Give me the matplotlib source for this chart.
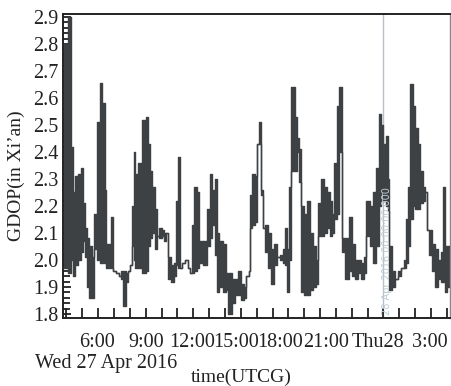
import matplotlib.pyplot as plt
import matplotlib.transforms as mtransforms
from matplotlib.ticker import MultipleLocator

# GDOP over Xi'an, hours counted from Wed 27 Apr 2016 00:00 UTCG.
# Where the value flickers between two levels, low/high hold both ends.
hours = [3.86, 4.11, 4.30, 4.39, 4.55, 4.74, 4.93, 5.05, 5.18, 5.31,
         5.43, 5.62, 5.75, 5.94, 6.09, 6.25, 6.41, 6.50, 6.82, 6.91,
         7.13, 7.32, 7.45, 7.58, 7.77, 7.89, 8.02, 8.14, 8.24, 8.33,
         8.52, 8.77, 9.03, 9.15, 9.28, 9.40, 9.59, 9.72, 9.85, 10.04,
         10.16, 10.29, 10.41, 10.60, 10.79, 10.89, 11.04, 11.17, 11.30, 11.48,
         11.67, 11.80, 11.93, 12.05, 12.24, 12.37, 12.62, 12.87, 13.06, 13.19,
         13.38, 13.50, 13.63, 13.88, 14.07, 14.20, 14.45, 14.64, 14.83, 15.02,
         15.21, 15.33, 15.52, 15.61, 15.71, 15.90, 16.03, 16.15, 16.28, 16.41,
         16.53, 16.72, 16.91, 17.10, 17.29, 17.48, 17.67, 17.80, 17.92, 18.07,
         18.19, 18.41, 18.54, 18.67, 18.80, 18.99, 19.18, 19.37, 19.56, 19.75,
         19.90, 20.06, 20.25, 20.44, 20.63, 20.75, 20.88, 21.04, 21.20, 21.38,
         21.57, 21.83, 22.02, 22.20, 22.39, 22.58, 22.77, 22.93, 23.15, 23.34,
         23.53, 23.69, 23.84, 24.00, 24.16, 24.28, 24.38, 24.54, 24.73, 24.92,
         25.10, 25.29, 25.42, 25.58, 25.70, 25.86, 26.02, 26.18, 26.33, 26.49,
         26.62, 26.74, 26.87, 27.06, 27.25, 27.44, 27.63, 27.76, 27.89, 28.04,
         28.20]

gdop_low = [1.97, 1.95, 2.00, 1.94, 1.98, 2.00, 2.03, 2.07, 2.01, 1.90,
            1.86, 1.86, 2.04, 2.00, 1.99, 1.99, 1.99, 1.97, 1.97, 1.96,
            1.95, 1.94, 1.93, 1.83, 1.92, 1.96, 1.98, 2.05, 2.00, 1.97,
            1.97, 1.95, 1.96, 2.05, 2.08, 2.10, 2.04, 2.09, 2.08, 2.09,
            2.07, 2.10, 1.93, 1.92, 1.94, 1.98, 1.97, 1.97, 1.99, 2.00,
            1.97, 1.95, 1.95, 1.96, 1.97, 1.99, 1.98, 2.05, 2.08, 2.13,
            2.02, 1.88, 1.90, 1.88, 1.89, 1.80, 1.84, 1.87, 1.87, 1.85,
            1.86, 1.94, 1.96, 2.12, 2.13, 2.14, 2.43, 2.43, 2.24, 2.12,
            2.03, 1.97, 1.91, 1.98, 2.01, 2.00, 1.99, 1.98, 1.88, 2.00,
            2.33, 2.33, 2.40, 2.29, 1.88, 1.87, 1.87, 1.89, 1.90, 1.91,
            2.09, 2.09, 2.10, 2.12, 2.09, 2.10, 2.15, 2.17, 2.40, 2.03,
            1.93, 1.96, 1.94, 1.93, 1.95, 1.93, 1.95, 2.09, 2.05, 1.99,
            2.05, 2.20, 2.25, 2.22, 2.20, 2.18, 1.89, 1.90, 1.93, 1.94,
            1.97, 1.97, 1.99, 2.05, 2.15, 2.20, 2.19, 2.19, 2.21, 2.22,
            2.25, 2.11, 2.02, 1.96, 1.90, 1.93, 1.92, 1.92, 1.88, 1.90,
            1.90]

gdop_high = [2.80, 2.90, 2.42, 2.25, 2.31, 2.32, 2.34, 2.21, 2.12, 2.08,
             2.05, 2.01, 2.17, 2.51, 2.655, 2.58, 2.26, 2.06, 2.16, 1.96,
             1.95, 1.94, 1.96, 1.96, 1.95, 1.96, 1.98, 2.20, 2.40, 2.32,
             2.36, 2.52, 2.53, 2.43, 2.33, 2.27, 2.19, 2.09, 2.12, 2.11,
             2.10, 2.10, 2.01, 1.98, 1.99, 2.22, 2.38, 1.97, 1.99, 2.00,
             1.97, 1.95, 2.13, 2.27, 2.25, 2.07, 2.07, 2.19, 2.32, 2.26,
             2.30, 2.10, 2.07, 2.06, 1.95, 1.95, 1.93, 1.93, 1.96, 1.91,
             1.90, 1.94, 1.96, 2.24, 2.32, 2.31, 2.43, 2.51, 2.26, 2.12,
             2.13, 2.10, 2.04, 2.06, 2.01, 2.02, 2.04, 2.12, 2.04, 2.27,
             2.64, 2.53, 2.45, 2.41, 2.20, 2.17, 2.22, 2.10, 2.05, 2.00,
             2.21, 2.30, 2.27, 2.25, 2.22, 2.17, 2.36, 2.57, 2.64, 2.08,
             2.08, 2.16, 2.06, 2.00, 2.00, 1.99, 2.01, 2.22, 2.20, 2.25,
             2.34, 2.54, 2.50, 2.43, 2.46, 2.30, 2.05, 1.96, 1.93, 1.96,
             1.97, 2.00, 2.15, 2.27, 2.65, 2.57, 2.49, 2.43, 2.33, 2.27,
             2.25, 2.11, 2.11, 2.06, 2.04, 2.00, 2.03, 2.27, 2.05, 2.05,
             2.05]

tick_hours = [6, 9, 12, 15, 18, 21, 24, 27]
tick_names = ["6:00", "9:00", "12:00", "15:00", "18:00", "21:00", "Thu28", "3:00"]
label_hours = [5.91, 9.06, 11.93, 14.70, 17.48, 20.38, 23.65, 26.93]

line_color = "#3e4144"

plt.rcParams["font.family"] = ["Liberation Serif", "DejaVu Serif"]

fig = plt.figure(figsize=(4.51, 3.86), dpi=100)
ax = fig.add_axes([63 / 451, 1 - 318 / 386, 387 / 451, 304 / 386])

# cursor line at midnight
ax.axvline(24.0, color="#b9c0c6", lw=1.0, zorder=1)

ax.fill_between(hours, gdop_low, gdop_high, step="post",
                color=line_color, lw=0, zorder=2)
ax.step(hours, gdop_high, where="post", color=line_color, lw=1.0, zorder=3)
ax.step(hours, gdop_low, where="post", color=line_color, lw=1.0, zorder=3)

ax.text(24.22, 1.795, "28 Apr 2016 00:00:00.000", rotation=90,
        ha="center", va="bottom", fontsize=7, color="#bccbd6",
        family="DejaVu Sans", zorder=4)

ax.set_xlim(3.78, 28.2)
ax.set_ylim(1.785, 2.911)

ax.yaxis.set_major_locator(MultipleLocator(0.1))
ax.yaxis.set_minor_locator(MultipleLocator(0.02))
ax.yaxis.set_major_formatter(plt.FormatStrFormatter("%.1f"))
ax.set_xticks(tick_hours)
ax.set_xticklabels([])
ax.xaxis.set_minor_locator(MultipleLocator(1))
ax.set_ylim(1.785, 2.911)

ax.tick_params(axis="y", which="major", direction="in", length=6, width=1.3,
               labelsize=14.5, pad=3, colors="#222222")
ax.tick_params(axis="y", which="minor", direction="in", length=5, width=1.3,
               colors="#222222")
ax.tick_params(axis="x", which="both", direction="in", length=7, width=1.3,
               colors="#222222")

for side in ["left", "bottom", "top"]:
    ax.spines[side].set_color("#222222")
    ax.spines[side].set_linewidth(1.4)
ax.spines["right"].set_color("#8a8a8a")
ax.spines["right"].set_linewidth(1.0)

# hour labels sit a little off their ticks
trans = mtransforms.blended_transform_factory(ax.transData, fig.transFigure)
for h, name in zip(label_hours, tick_names):
    fig.text(h, 1 - 347 / 386, name, transform=trans, ha="center",
             va="baseline", fontsize=14.5, color="#222222")

fig.text(35 / 451, 1 - 368 / 386, "Wed 27 Apr 2016", ha="left",
         va="baseline", fontsize=14.5, color="#222222")
fig.text(241 / 451, 1 - 382 / 386, "time(UTCG)", ha="center",
         va="baseline", fontsize=14, color="#222222")
fig.text(16 / 451, 1 - 176 / 386, "GDOP(in Xi\u2019an)", rotation=90,
         ha="center", va="center", fontsize=14, color="#222222")

fig.savefig("out.png", dpi=100)
